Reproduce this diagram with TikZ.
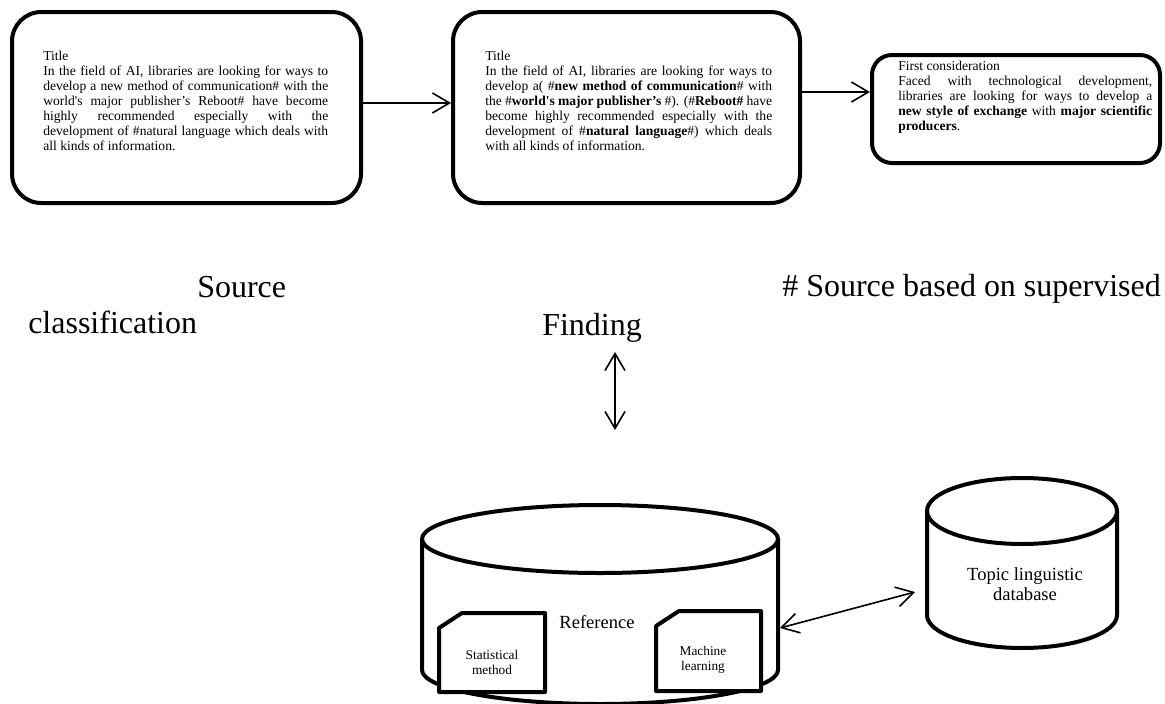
\documentclass[tikz,border=0pt]{standalone}
\usepackage{fontspec}
\setmainfont{Liberation Serif}
\usetikzlibrary{arrows.meta}
\setlength{\parindent}{0pt}
\tikzset{
  card/.style={
    draw=black,
    line width=3pt,
    rounded corners=22pt,
    inner sep=0pt
  },
  card-small/.style={card, rounded corners=15pt},
  card-text/.style={
    anchor=north west,
    inner sep=0pt,
    align=justify,
    font=\fontsize{10.2}{11.25}\selectfont
  },
  big-text/.style={anchor=base west, inner sep=0pt, font=\fontsize{24}{28}\selectfont},
  mid-text/.style={inner sep=0pt, align=center, font=\fontsize{13.9}{15.5}\selectfont},
  small-text/.style={inner sep=0pt, align=center, font=\fontsize{10}{11.25}\selectfont},
  barb/.tip={Straight Barb[length=12.75pt,width=15pt]},
  link/.style={line width=1.2pt, -barb},
  link-both/.style={line width=1.2pt, barb-barb},
  drum/.style={draw=black, line width=3pt, line join=round},
  snip/.style={draw=black, fill=white, line width=3pt, line join=round}
}
% cylinder: centre x, x radius, top y, bottom y, y radius
\newcommand{\drumshape}[5]{
  \draw[drum] (#1-#2,#3) -- (#1-#2,#4)
    arc[start angle=180, end angle=0, x radius=#2, y radius=#5] -- (#1+#2,#3);
  \draw[drum] (#1,#3) ellipse[x radius=#2, y radius=#5];
}
% box with cut corner: left, top, right, bottom
\newcommand{\snipframe}[4]{
  \draw[snip] (#1,#2+15) -- (#1+23,#2) -- (#3,#2) -- (#3,#4) -- (#1,#4) -- cycle;
}

\begin{document}
\begin{tikzpicture}[x=0.75pt, y=-0.75pt]
  \useasboundingbox (0,0) rectangle (1165,704);
  % top row
  \node[card, minimum width=261.75pt, minimum height=143.25pt] (box1) at (186.5,107.5) {};
  \node[card, minimum width=260.25pt, minimum height=143.25pt] (box2) at (626.5,107.5) {};
  \node[card-small, minimum width=216pt, minimum height=81pt] (box3) at (1016,109) {};
  \node[card-text, text width=213.75pt] (txt1) at (43,51) {Title\\
    In the field of AI, libraries are looking for ways to\linebreak
    develop a new method of communication\# with the\linebreak
    world\textquotesingle s major publisher's Reboot\# have become\linebreak
    highly recommended especially with the\linebreak
    development of \#natural language which deals with\linebreak
    all kinds of information.};
  \node[card-text, text width=215.25pt] (txt2) at (485,51) {Title\\
    In the field of AI, libraries are looking for ways to\linebreak
    develop a( \#\textbf{new method of communication}\# with\linebreak
    the \#\textbf{world\textquotesingle s major publisher's} \#). (\#\textbf{Reboot\#} have\linebreak
    become highly recommended especially with the\linebreak
    development of \#\textbf{natural language}\#) which deals\linebreak
    with all kinds of information.};
  \node[card-text, text width=190.5pt] (txt3) at (898,61) {First consideration\\
    Faced with technological development,\linebreak
    libraries are looking for ways to develop a\linebreak
    \textbf{new style of exchange} with \textbf{major scientific}\linebreak
    \textbf{producers}.};
  \draw[link] ([yshift=3.4pt]box1.east) -- ([yshift=3.4pt]box2.west);
  \draw[link] ([yshift=11.6pt]box2.east) -- ([yshift=12.75pt]box3.west);
  % middle labels
  \node[big-text] (src) at (197,297) {Source};
  \node[big-text] (cls) at (28,333) {classification};
  \node[big-text] (find) at (542,335) {Finding};
  \node[big-text] (sup) at (782,296) {\# Source based on supervised};
  \coordinate (fa) at (615,352);
  \coordinate (fb) at (615,430);
  \draw[link-both] (fa) -- (fb);
  % databases
  \drumshape{600}{178}{539}{670}{34}
  \drumshape{1022}{95}{511}{615}{33}
  \node[mid-text] (ref) at (597,622) {Reference};
  \node[mid-text] (topic) at (1025,584) {Topic linguistic\\database};
  \snipframe{439}{613}{545}{692}
  \snipframe{656}{611}{761}{691}
  \node[small-text] (stat) at (492,662) {Statistical\\method};
  \node[small-text] (ml) at (703,660) {Machine\\learning};
  \coordinate (ra) at (780,628);
  \coordinate (tb) at (915,592);
  \draw[link-both] (ra) -- (tb);
\end{tikzpicture}
\end{document}
